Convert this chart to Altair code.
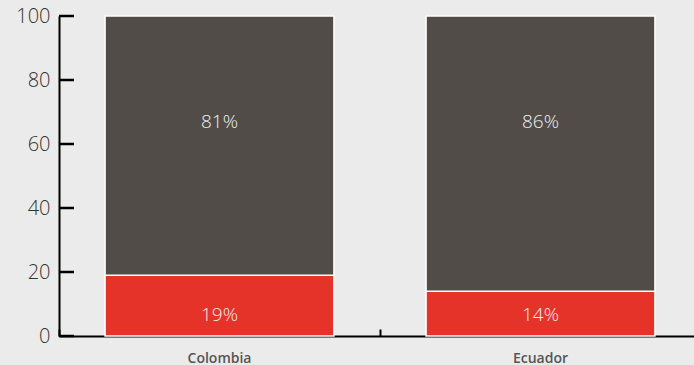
import altair as alt
import pandas as pd

countries = ["Colombia", "Ecuador"]
low_share = [19, 14]
high_share = [81, 86]
low_labels = ["19%", "14%"]
high_labels = ["81%", "86%"]
y_ticks = [0, 20, 40, 60, 80, 100]

rows = []
for c, lo, hi, ll, hl in zip(countries, low_share, high_share, low_labels, high_labels):
    rows.append({"country": c, "segment": "low", "start": 0, "end": lo, "label": ll})
    rows.append({"country": c, "segment": "high", "start": lo, "end": lo + hi, "label": hl})
df = pd.DataFrame(rows)
ticks_df = pd.DataFrame({"v": y_ticks})

FONT = "Open Sans"
BG = "#ebebeb"
xscale = alt.Scale(range=[0, 642], paddingInner=0.287, paddingOuter=0.1435)
yscale = alt.Scale(domain=[0, 100], nice=False)
cscale = alt.Scale(domain=["low", "high"], range=["#e5332a", "#514c48"])

base = alt.Chart(df)

bars = base.mark_bar(stroke="white", strokeWidth=1.5).encode(
    x=alt.X("country:N", sort=countries, scale=xscale,
            axis=alt.Axis(title=None, orient="bottom", domain=True, domainColor="black",
                          domainWidth=2, ticks=False, labelFont=FONT, labelFontSize=14,
                          labelFontWeight=600, labelColor="#555555", labelPadding=15,
                          labelAngle=0)),
    y=alt.Y("start:Q", scale=yscale,
            axis=alt.Axis(title=None, orient="left", values=y_ticks, domain=True,
                          domainColor="black", domainWidth=2, ticks=False, grid=False,
                          labelFont=FONT, labelFontSize=20, labelFontWeight=300,
                          labelColor="#333333", labelPadding=9)),
    y2="end:Q",
    color=alt.Color("segment:N", scale=cscale, legend=None),
)

xtick_layer = base.mark_bar(opacity=0, strokeOpacity=0).encode(
    x=alt.X("country:N", sort=countries, scale=xscale,
            axis=alt.Axis(title=None, orient="bottom", domain=False, labels=False,
                          ticks=True, tickSize=7, tickWidth=2, tickColor="black",
                          bandPosition=0, tickOffset=-46, offset=-7)),
    y=alt.Y("start:Q", scale=yscale, axis=None),
    y2="end:Q",
)

ytick_marks = alt.Chart(ticks_df).mark_rule(color="black", strokeWidth=2.5).encode(
    y=alt.Y("v:Q", scale=yscale, axis=None),
    x=alt.value(0),
    x2=alt.value(15),
)

text = base.mark_text(font=FONT, fontSize=19, fontWeight=300, color="#eeeeee").encode(
    x=alt.X("country:N", sort=countries, scale=xscale, axis=None),
    y=alt.Y("ly:Q", scale=yscale, axis=None),
    text="label:N",
).transform_calculate(ly="datum.segment == 'low' ? 6.6 : 66.8")

chart = alt.layer(bars, xtick_layer, ytick_marks, text).resolve_axis(
    x="independent", y="independent"
).properties(
    width=635, height=320, background=BG,
    autosize=alt.AutoSizeParams(type="none"),
    padding={"left": 59, "top": 16, "right": 0, "bottom": 29},
).configure_view(stroke=None)

TEMPLATE_SRC = """<!DOCTYPE html>
<html>
<head>
<meta charset="utf-8">
<style>html,body{margin:0;padding:0;background:#ebebeb;overflow:hidden;}</style>
<script type="text/javascript" src="{{ base_url }}/vega@{{ vega_version }}"></script>
<script type="text/javascript" src="{{ base_url }}/vega-lite@{{ vegalite_version }}"></script>
<script type="text/javascript" src="{{ base_url }}/vega-embed@{{ vegaembed_version }}"></script>
</head>
<body>
<div id="{{ output_div }}"></div>
<script type="text/javascript">
vegaEmbed("#{{ output_div }}", {{ spec }}, {{ embed_options }}).catch(console.error);
</script>
</body>
</html>
"""

saved = False
try:
    import jinja2
    chart.save("out.html", embed_options={"renderer": "svg", "actions": False},
               template=jinja2.Template(TEMPLATE_SRC))
    saved = True
except Exception:
    saved = False
if not saved:
    chart.save("out.html", embed_options={"renderer": "svg", "actions": False})
